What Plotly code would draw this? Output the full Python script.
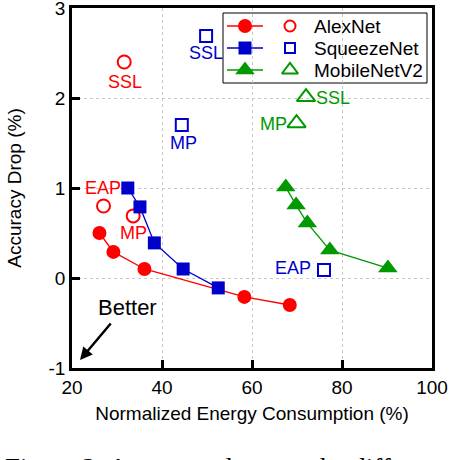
import plotly.graph_objects as go

# ---- data ----
alex_x = [26.1, 29.2, 36.1, 58.3, 68.4]
alex_y = [0.50, 0.29, 0.10, -0.21, -0.30]
alex_other_x = [31.6, 27.0, 33.6]
alex_other_y = [2.40, 0.80, 0.69]
alex_other_lbl = ["SSL", "EAP", "MP"]

sq_x = [32.4, 35.1, 38.3, 44.7, 52.5]
sq_y = [1.00, 0.79, 0.39, 0.10, -0.11]
sq_other_x = [49.8, 44.4, 76.0]
sq_other_y = [2.69, 1.70, 0.09]
sq_other_lbl = ["SSL", "MP", "EAP"]

mb_x = [67.5, 69.8, 72.3, 77.3, 90.2]
mb_y = [1.01, 0.81, 0.61, 0.31, 0.11]
mb_other_x = [72.0, 69.9]
mb_other_y = [2.01, 1.72]
mb_other_lbl = ["SSL", "MP"]

x_ticks = [20, 40, 60, 80, 100]
y_ticks = [-1, 0, 1, 2, 3]

RED = "#ff0000"
BLUE = "#0000cc"
GREEN = "#009900"
FONT = "Liberation Sans, Arial, sans-serif"

fig = go.Figure()

series = [
    ("AlexNet", alex_x, alex_y, alex_other_x, alex_other_y, RED, "circle", 14),
    ("SqueezeNet", sq_x, sq_y, sq_other_x, sq_other_y, BLUE, "square", 13),
    ("MobileNetV2", mb_x, mb_y, mb_other_x, mb_other_y, GREEN, "triangle-up", 17),
]
for name, xs, ys, ox, oy, col, sym, sz in series:
    fig.add_trace(go.Scatter(x=xs, y=ys, mode="lines+markers", showlegend=False,
                             line=dict(color=col, width=1.3),
                             marker=dict(symbol=sym, size=sz, color=col)))
    fig.add_trace(go.Scatter(x=ox, y=oy, mode="markers", showlegend=False,
                             marker=dict(symbol=sym + "-open", size=sz - 1, color=col,
                                         line=dict(width=2, color=col))))

# ---- manual legend on a pixel-space overlay axis ----
leg_rows = [26, 48, 70]
for (name, xs, ys, ox, oy, col, sym, sz), ry in zip(series, leg_rows):
    fig.add_trace(go.Scatter(x=[227, 263], y=[ry, ry], mode="lines", xaxis="x2", yaxis="y2",
                             showlegend=False, line=dict(color=col, width=1.3)))
    fig.add_trace(go.Scatter(x=[245], y=[ry], mode="markers", xaxis="x2", yaxis="y2",
                             showlegend=False, marker=dict(symbol=sym, size=sz, color=col)))
    fig.add_trace(go.Scatter(x=[290], y=[ry], mode="markers", xaxis="x2", yaxis="y2",
                             showlegend=False,
                             marker=dict(symbol=sym + "-open", size=sz - 3, color=col,
                                         line=dict(width=2, color=col))))
    fig.add_annotation(x=312, y=ry, xref="x2", yref="y2", text=name, showarrow=False,
                       xanchor="left", yanchor="middle",
                       font=dict(family=FONT, size=19, color="black"))

fig.add_shape(type="rect", xref="x2", yref="y2", x0=223, x1=427, y0=13, y1=83,
              line=dict(color="black", width=1), fillcolor="white", layer="below")

# ---- point labels (pixel positions) ----
labels = [
    ("SSL", 125, 82, RED), ("EAP", 103, 188, RED), ("MP", 133, 233, RED),
    ("SSL", 206, 53, BLUE), ("MP", 183, 143, BLUE), ("EAP", 293, 268, BLUE),
    ("SSL", 333, 98, GREEN), ("MP", 273, 124, GREEN),
]
for t, px, py, col in labels:
    fig.add_annotation(x=px, y=py, xref="x2", yref="y2", text=t, showarrow=False,
                       xanchor="center", yanchor="middle",
                       font=dict(family=FONT, size=18, color=col))

fig.add_annotation(x=127, y=307, xref="x2", yref="y2", text="Better", showarrow=False,
                   font=dict(family=FONT, size=22, color="black"))
fig.add_annotation(x=80, y=360, xref="x2", yref="y2", ax=112, ay=322, axref="x2", ayref="y2",
                   text="", showarrow=True, arrowhead=2, arrowsize=1, arrowwidth=2.5,
                   arrowcolor="black")

# caption (cut off by page edge)
fig.add_annotation(x=-0.192, y=-0.278, xref="paper", yref="paper",
                   text="Figure 2: Accuracy drop vs. the different",
                   showarrow=False, xanchor="left", yanchor="middle",
                   font=dict(family="Liberation Serif, Times New Roman, serif", size=27,
                             color="black"))

axis_common = dict(showline=True, linecolor="black", linewidth=2.5, mirror=True,
                   ticks="inside", ticklen=8, tickwidth=2.5, tickcolor="black",
                   showgrid=True, gridcolor="#c8c8c8", griddash="dot", gridwidth=1,
                   zeroline=False, automargin=False, ticklabeloverflow="allow",
                   tickfont=dict(family=FONT, size=19, color="black"))

fig.update_layout(
    width=450, height=460, autosize=False,
    margin=dict(l=72, r=18, t=8, b=92),
    plot_bgcolor="white", paper_bgcolor="white",
    font=dict(family=FONT, color="black"),
    xaxis=dict(range=[20, 100], tickvals=x_ticks, ticktext=[str(v) for v in x_ticks],
               title=dict(text="Normalized Energy Consumption (%)",
                          font=dict(family=FONT, size=19, color="black"), standoff=11),
               **axis_common),
    yaxis=dict(range=[-1, 3], tickvals=y_ticks, ticktext=[str(v) for v in y_ticks],
               title=dict(text="Accuracy Drop (%)",
                          font=dict(family=FONT, size=19, color="black"), standoff=22),
               **axis_common),
    xaxis2=dict(overlaying="x", range=[72, 432], visible=False, fixedrange=True),
    yaxis2=dict(overlaying="y", range=[368, 8], visible=False, fixedrange=True),
)

fig.write_html("out.html", config={"displayModeBar": False},
               post_script="document.body.style.margin='0';")
